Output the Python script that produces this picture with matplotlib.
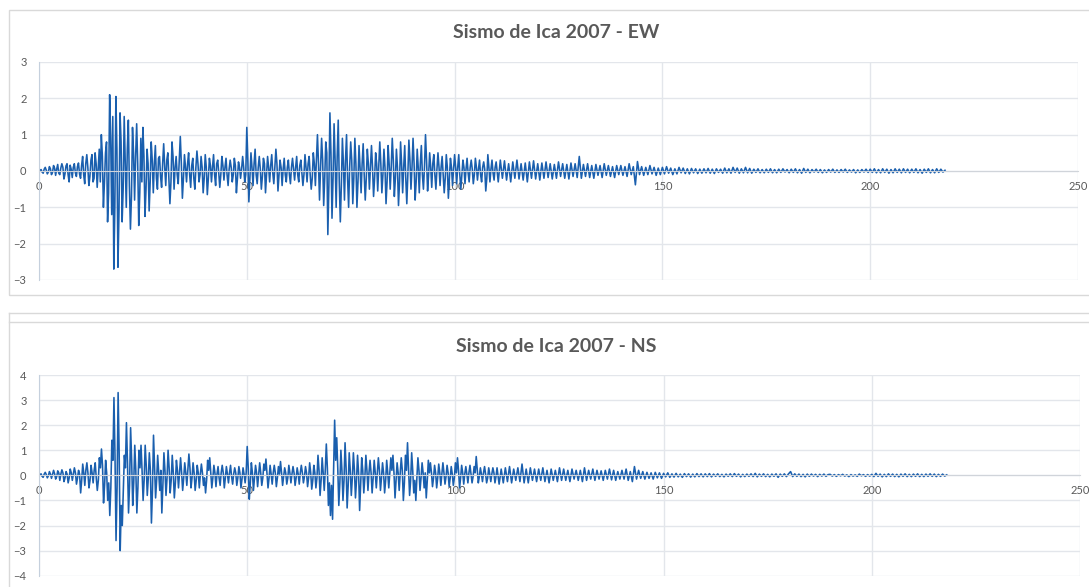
import numpy as np
import matplotlib.pyplot as plt
from matplotlib.patches import Rectangle
from matplotlib.lines import Line2D

plt.rcParams['font.family'] = ['Lato', 'DejaVu Sans']

titles = ["Sismo de Ica 2007 - EW", "Sismo de Ica 2007 - NS"]

# EW, fase fuerte 0-110 s cada 0.25 s (una fila = 10 s)
ew_fuerte = [
    0.0, 0.02, 0.04, -0.03, -0.06, 0.05, 0.1, 0.02, -0.08, -0.03, 0.12, 0.06, -0.1, -0.04, 0.15, 0.08, -0.12, 0.05, 0.18, -0.06,
    -0.1, 0.08, 0.2, 0.1, -0.22, -0.08, 0.14, 0.2, -0.1, -0.3, 0.16, 0.05, -0.18, 0.1, 0.2, -0.05, -0.15, 0.12, 0.22, -0.08,
    -0.2, 0.15, 0.4, -0.1, -0.35, 0.2, 0.45, 0.1, -0.4, -0.15, 0.3, 0.45, -0.3, -0.2, 0.5, 0.2, -0.45, 0.1, 0.6, -0.3,
    1.0, 0.4, -1.0, -0.3, 0.5, 0.8, -1.4, -0.6, 2.1, 0.9, -1.2, 1.5, -2.7, -1.0, 2.05, 0.6, -2.65, -1.1, 1.6, 0.8,
    -1.4, -0.5, 1.5, 0.3, -1.0, 0.6, 1.4, -0.4, -1.6, -0.7, 1.2, 0.5, -0.8, 0.4, 1.3, 0.2, -1.5, -0.6, 0.9, -0.3,
    1.2, 0.4, -1.25, -0.5, 0.6, 0.2, -1.1, -0.3, 0.8, 0.3, -0.6, 0.2, 0.7, -0.2, -0.5, 0.35, 0.4, -0.15, -0.45, 0.2,
    0.75, 0.1, -0.4, 0.3, 0.5, -0.2, -0.9, -0.3, 0.8, 0.4, -0.5, 0.1, 0.4, -0.1, -0.35, 0.3, 0.95, 0.2, -0.75, -0.2,
    0.45, 0.1, -0.3, 0.2, 0.5, -0.1, -0.45, 0.15, 0.35, -0.2, -0.5, 0.1, 0.55, 0.2, -0.3, -0.1, 0.4, 0.1, -0.6, -0.2,
    0.45, 0.1, -0.65, -0.2, 0.35, 0.15, -0.3, 0.1, 0.45, -0.1, -0.4, 0.2, 0.3, -0.05, -0.45, -0.1, 0.4, 0.15, -0.25, 0.1,
    0.35, -0.1, -0.4, 0.05, 0.3, 0.1, -0.3, -0.1, 0.35, 0.15, -0.6, -0.2, 0.25, 0.1, -0.2, 0.05, 0.4, 0.1, -0.3, -0.1,
    1.2, 0.3, -0.85, -0.2, 0.5, 0.1, -0.4, 0.2, 0.6, -0.1, -0.35, 0.1, 0.4, 0.05, -0.5, -0.15, 0.35, 0.2, -0.6, -0.1,
    0.4, 0.1, -0.3, 0.15, 0.45, -0.05, -0.35, 0.1, 0.6, 0.2, -0.55, -0.1, 0.3, 0.1, -0.4, 0.05, 0.35, -0.1, -0.3, 0.1,
    0.3, -0.1, -0.35, 0.1, 0.35, 0.05, -0.25, 0.1, 0.4, -0.1, -0.3, 0.15, 0.3, -0.05, -0.4, -0.1, 0.45, 0.1, -0.3, 0.2,
    0.4, -0.1, -0.5, -0.2, 0.5, 0.2, -0.4, 0.3, 1.0, 0.2, -0.8, 0.1, 0.9, 0.3, -0.95, -0.2, 0.8, 0.5, -1.75, -0.4,
    1.6, 0.5, -1.3, -0.2, 1.3, 0.3, -1.0, 0.4, 1.4, -0.3, -1.4, -0.4, 0.9, 0.2, -0.8, 0.3, 1.0, -0.2, -1.0, 0.1,
    0.8, 0.3, -0.9, -0.2, 0.9, 0.2, -1.0, -0.3, 0.7, 0.1, -0.6, 0.2, 0.75, -0.1, -0.8, -0.2, 0.6, 0.2, -0.5, 0.1,
    0.7, 0.1, -0.7, -0.2, 0.5, 0.2, -0.55, 0.1, 0.8, 0.2, -0.6, -0.1, 0.6, 0.1, -0.9, -0.3, 0.7, 0.2, -0.5, 0.1,
    0.9, 0.3, -0.7, -0.2, 0.6, 0.1, -0.95, -0.3, 0.8, 0.2, -0.6, 0.1, 0.7, -0.2, -0.9, -0.1, 0.85, 0.3, -0.5, 0.1,
    0.9, 0.2, -0.8, -0.3, 0.6, 0.1, -0.6, 0.2, 0.7, -0.1, -0.5, 0.1, 1.0, 0.3, -0.55, -0.1, 0.5, 0.1, -0.45, 0.2,
    0.45, -0.1, -0.5, 0.05, 0.5, 0.1, -0.4, 0.1, 0.4, -0.1, -0.6, -0.2, 0.45, 0.1, -0.75, -0.2, 0.35, 0.1, -0.4, 0.05,
    0.45, 0.1, -0.35, 0.1, 0.45, -0.1, -0.5, -0.1, 0.3, 0.1, -0.35, 0.05, 0.35, -0.05, -0.3, 0.1, 0.3, 0.05, -0.35, -0.1,
    0.35, 0.1, -0.25, 0.05, 0.3, -0.1, -0.3, 0.1, 0.25, 0.05, -0.55, -0.2, 0.45, 0.1, -0.3, 0.05, 0.3, -0.05, -0.25, 0.1,
]

# EW, cola 110-218 s cada 0.5 s
ew_cola = [
    0.25, -0.3, 0.3, -0.2, 0.28, -0.25, 0.2, -0.3, 0.25, -0.2, 0.3, -0.22, 0.2, -0.25, 0.22, -0.3, 0.25, -0.2, 0.28, -0.22,
    0.2, -0.25, 0.22, -0.2, 0.25, -0.18, 0.2, -0.22, 0.18, -0.2, 0.25, -0.15, 0.2, -0.2, 0.18, -0.22, 0.22, -0.15, 0.2, -0.18,
    0.4, -0.2, 0.18, -0.15, 0.2, -0.18, 0.15, -0.2, 0.18, -0.12, 0.15, -0.18, 0.2, -0.12, 0.15, -0.15, 0.12, -0.18, 0.15, -0.1,
    0.15, -0.12, 0.12, -0.15, 0.2, -0.1, 0.12, -0.38, 0.26, -0.1, 0.12, -0.12, 0.1, -0.1, 0.15, -0.08, 0.1, -0.12, 0.08, -0.1,
    0.1, -0.08, 0.12, -0.06, 0.08, -0.1, 0.06, -0.08, 0.1, -0.05, 0.08, -0.07, 0.06, -0.08, 0.07, -0.05, 0.06, -0.07, 0.05, -0.06,
    0.06, -0.05, 0.07, -0.06, 0.05, -0.07, 0.06, -0.04, 0.05, -0.06, 0.08, -0.05, 0.06, -0.06, 0.1, -0.04, 0.08, -0.06, 0.06, -0.05,
    0.1, -0.05, 0.07, -0.06, 0.05, -0.04, 0.06, -0.05, 0.04, -0.05, 0.05, -0.04, 0.06, -0.05, 0.04, -0.05, 0.05, -0.04, 0.06, -0.03,
    0.04, -0.05, 0.05, -0.04, 0.06, -0.05, 0.04, -0.06, 0.07, -0.04, 0.05, -0.05, 0.04, -0.03, 0.05, -0.04, 0.04, -0.05, 0.03, -0.04,
    0.04, -0.03, 0.05, -0.04, 0.03, -0.04, 0.04, -0.03, 0.05, -0.04, 0.03, -0.03, 0.04, -0.05, 0.03, -0.04, 0.04, -0.03, 0.05, -0.04,
    0.05, -0.04, 0.06, -0.05, 0.04, -0.05, 0.06, -0.04, 0.05, -0.06, 0.04, -0.05, 0.06, -0.04, 0.05, -0.05, 0.06, -0.04, 0.05, -0.05,
    0.05, -0.04, 0.06, -0.05, 0.04, -0.06, 0.05, -0.04, 0.06, -0.05, 0.04, -0.05, 0.06, -0.04, 0.05, -0.03, 0.02,
]

# NS, fase fuerte 0-110 s cada 0.25 s
ns_fuerte = [
    0.0, 0.03, 0.06, -0.04, -0.08, 0.05, 0.12, 0.03, -0.1, -0.02, 0.15, 0.05, -0.12, 0.04, 0.2, 0.06, -0.15, -0.05, 0.18, 0.1,
    -0.2, 0.05, 0.22, 0.1, -0.25, -0.1, 0.15, 0.05, -0.3, -0.1, 0.25, 0.1, -0.2, 0.05, 0.3, 0.1, -0.35, -0.1, 0.2, 0.05,
    -0.7, -0.2, 0.45, 0.1, -0.4, 0.2, 0.5, 0.1, -0.5, -0.2, 0.4, 0.1, -0.3, 0.2, 0.5, -0.1, -0.6, -0.2, 0.7, 0.3,
    1.05, 0.4, -1.1, -0.4, 0.6, 0.1, -1.0, -0.3, -1.6, -0.5, 1.4, 0.6, 3.1, 0.8, -2.6, -0.5, 3.3, 0.9, -3.0, -1.2,
    -2.0, -0.6, 0.8, 0.3, 2.1, 0.5, -1.5, -0.4, 1.9, 0.6, -1.2, -0.3, 1.2, 0.2, -1.5, -0.5, 1.0, 0.3, 1.2, 0.2,
    -1.0, -0.2, 1.2, 0.4, -0.8, -0.1, 0.9, 0.2, -1.9, -0.6, 1.6, 0.4, -0.9, -0.2, 0.8, 0.1, -0.6, 0.2, -1.5, -0.4,
    0.9, 0.2, -0.8, -0.1, 1.0, 0.3, -0.7, -0.2, 0.8, 0.1, -0.9, -0.3, 0.6, 0.2, -0.5, 0.1, 0.7, 0.1, -0.6, -0.1,
    0.5, 0.1, -0.4, 0.2, 0.85, 0.3, -0.5, -0.1, 0.5, 0.1, -0.6, -0.2, 0.4, 0.1, -0.5, 0.05, 0.45, 0.1, -0.4, -0.1,
    -0.7, -0.2, 0.6, 0.2, 0.7, 0.1, -0.5, -0.1, 0.4, 0.1, -0.45, 0.05, 0.35, -0.1, -0.4, 0.1, 0.4, 0.1, -0.5, -0.1,
    0.35, 0.05, -0.3, 0.1, 0.4, -0.05, -0.35, 0.05, 0.3, 0.1, -0.4, -0.1, 0.35, 0.1, -0.5, -0.15, 0.3, 0.05, -0.3, 0.1,
    1.15, 0.3, -0.95, -0.3, 0.5, 0.1, -0.6, -0.1, 0.4, 0.1, -0.45, 0.05, 0.5, 0.1, -0.4, -0.1, 0.45, 0.2, 0.65, 0.1,
    -0.5, -0.1, 0.4, 0.05, -0.35, 0.1, 0.4, 0.1, -0.45, -0.1, 0.35, 0.05, 0.55, 0.1, -0.4, -0.05, 0.3, 0.1, -0.35, -0.1,
    0.4, 0.1, -0.3, 0.05, 0.35, 0.1, -0.4, -0.1, 0.3, 0.05, -0.35, 0.1, 0.4, 0.1, -0.3, -0.05, 0.35, 0.1, -0.45, -0.1,
    0.5, 0.1, -0.55, -0.2, 0.4, 0.1, -0.5, -0.1, 0.8, 0.2, -0.8, -0.2, 0.7, 0.1, -0.6, 0.2, 1.25, 0.3, -1.2, -0.3,
    -1.6, -0.4, -1.75, 0.2, 2.2, 0.6, 1.5, 0.3, -1.2, -0.3, 1.0, 0.2, -1.0, -0.2, 1.3, 0.3, -1.3, -0.4, 0.9, 0.2,
    -0.8, -0.1, 0.9, 0.2, -0.9, -0.2, 0.8, 0.1, -1.4, -0.4, 0.7, 0.2, -0.7, -0.1, 0.8, 0.2, -0.6, 0.1, 0.6, 0.1,
    -0.7, -0.1, 0.6, 0.1, -0.5, 0.1, 0.7, 0.2, -0.6, -0.1, 0.5, 0.1, -0.7, -0.2, 0.6, 0.1, -0.5, 0.1, 0.7, 0.2,
    0.8, 0.1, -0.9, -0.2, 0.5, 0.1, -0.6, 0.1, 0.7, 0.2, -1.0, -0.3, 0.8, 0.2, 1.3, 0.3, -0.8, -0.2, 0.9, 0.2,
    -0.7, -0.2, -1.0, -0.1, 0.7, 0.2, -0.6, -0.1, 0.5, 0.1, -0.5, 0.1, -0.9, -0.2, 0.6, 0.1, 0.5, 0.1, -0.45, -0.1,
    0.4, 0.1, -0.5, -0.1, 0.45, 0.1, -0.4, 0.05, 0.5, 0.1, -0.35, -0.05, 0.4, 0.1, -0.45, -0.1, 0.35, 0.05, -0.4, -0.1,
    0.5, 0.1, 0.7, 0.2, -0.5, -0.1, 0.4, 0.1, -0.35, 0.05, 0.35, 0.05, -0.3, 0.1, 0.4, 0.05, -0.3, -0.05, 0.35, 0.1,
    0.75, 0.2, -0.3, -0.05, 0.3, 0.05, -0.25, 0.1, 0.35, 0.05, -0.3, -0.1, 0.3, 0.05, -0.25, 0.05, 0.3, 0.1, -0.3, -0.05,
]

# NS, cola 110-218 s cada 0.5 s
ns_cola = [
    0.3, -0.35, 0.25, -0.3, 0.3, -0.25, 0.35, -0.3, 0.25, -0.2, 0.3, -0.25, 0.45, -0.3, 0.25, -0.3, 0.3, -0.2, 0.25, -0.25,
    0.25, -0.2, 0.3, -0.25, 0.2, -0.3, 0.25, -0.2, 0.2, -0.25, 0.3, -0.2, 0.25, -0.2, 0.2, -0.25, 0.25, -0.15, 0.2, -0.2,
    0.2, -0.25, 0.3, -0.2, 0.2, -0.15, 0.25, -0.2, 0.2, -0.15, 0.18, -0.2, 0.2, -0.15, 0.25, -0.18, 0.2, -0.2, 0.15, -0.15,
    0.2, -0.15, 0.25, -0.2, 0.15, -0.25, 0.35, -0.15, 0.2, -0.12, 0.15, -0.15, 0.12, -0.12, 0.1, -0.15, 0.12, -0.1, 0.1, -0.12,
    0.08, -0.06, 0.1, -0.08, 0.06, -0.07, 0.08, -0.06, 0.05, -0.08, 0.07, -0.05, 0.06, -0.07, 0.05, -0.06, 0.07, -0.05, 0.06, -0.06,
    0.06, -0.05, 0.07, -0.06, 0.05, -0.04, 0.06, -0.05, 0.04, -0.06, 0.05, -0.04, 0.06, -0.05, 0.07, -0.04, 0.05, -0.06, 0.04, -0.05,
    0.05, -0.04, 0.06, -0.05, 0.08, -0.06, 0.05, -0.04, 0.06, -0.05, 0.04, -0.06, 0.05, -0.04, 0.06, -0.08, 0.05, -0.04, 0.06, -0.05,
    0.06, 0.15, -0.05, 0.06, -0.04, 0.05, -0.05, 0.04, -0.06, 0.05, -0.04, 0.05, -0.03, 0.04, -0.05, 0.04, -0.03, 0.05, -0.04, 0.03,
    0.04, -0.03, 0.03, -0.04, 0.03, -0.02, 0.04, -0.03, 0.02, -0.05, 0.03, -0.03, 0.02, -0.04, 0.05, -0.02, 0.03, -0.04, 0.03, -0.03,
    0.04, -0.05, 0.08, -0.04, 0.05, -0.06, 0.04, -0.05, 0.06, -0.04, 0.05, -0.05, 0.04, -0.06, 0.05, -0.04, 0.06, -0.05, 0.04, -0.05,
    0.05, -0.04, 0.06, -0.05, 0.04, -0.05, 0.05, -0.04, 0.06, -0.04, 0.05, -0.05, 0.04, -0.04, 0.05, -0.03, 0.02,
]

ylims = [(-3, 3), (-4, 4)]

W, H = 1089, 587
fig = plt.figure(figsize=(W / 100, H / 100), dpi=100)
fig.patch.set_facecolor('white')

# bordes de los graficos (pixeles)
border = '#d9d9d9'
fig.add_artist(Rectangle((9 / W, 1 - 295 / H), 1.1, 285 / H, transform=fig.transFigure,
                         fill=False, edgecolor=border, lw=1))
fig.add_artist(Line2D([9 / W, 1], [1 - 313 / H] * 2, color=border, lw=1))
fig.add_artist(Line2D([9 / W, 1], [1 - 322 / H] * 2, color=border, lw=1))
fig.add_artist(Line2D([9 / W] * 2, [0, 1 - 313 / H], color=border, lw=1))

boxes = [
    [39 / W, 1 - 280 / H, (1078 - 39) / W, 218 / H],
    [39 / W, 1 - 575.7 / H, (1080 - 39) / W, 200.7 / H],
]
title_y = [33, 347]

for k, (fuerte, cola) in enumerate([(ew_fuerte, ew_cola), (ns_fuerte, ns_cola)]):
    t = np.concatenate([np.arange(len(fuerte)) * 0.25, 110 + np.arange(len(cola)) * 0.5])
    acc = np.array(fuerte + cola)
    ax = fig.add_axes(boxes[k])
    ax.plot(t, acc, color='#1a5fae', lw=1.15)
    ax.set_xlim(0, 250)
    ax.set_ylim(*ylims[k])
    ax.set_xticks(np.arange(0, 251, 50))
    ax.set_yticks(np.arange(ylims[k][0], ylims[k][1] + 1, 1))
    ax.grid(True, color='#e3e6eb', lw=1)
    ax.set_axisbelow(True)
    ax.spines['bottom'].set_position(('data', 0))
    ax.spines['bottom'].set_color('#d0d4da')
    ax.spines['left'].set_color('#c5d0dd')
    ax.spines['top'].set_visible(False)
    ax.spines['right'].set_visible(False)
    ax.tick_params(axis='both', length=0, labelsize=8, labelcolor='#595959')
    ax.tick_params(axis='x', pad=7)
    ax.tick_params(axis='y', pad=9)
    fig.text(556 / W, 1 - title_y[k] / H, titles[k], ha='center', va='center',
             fontsize=14, fontweight='bold', color='#595959')

plt.savefig('out.png', dpi=100)
